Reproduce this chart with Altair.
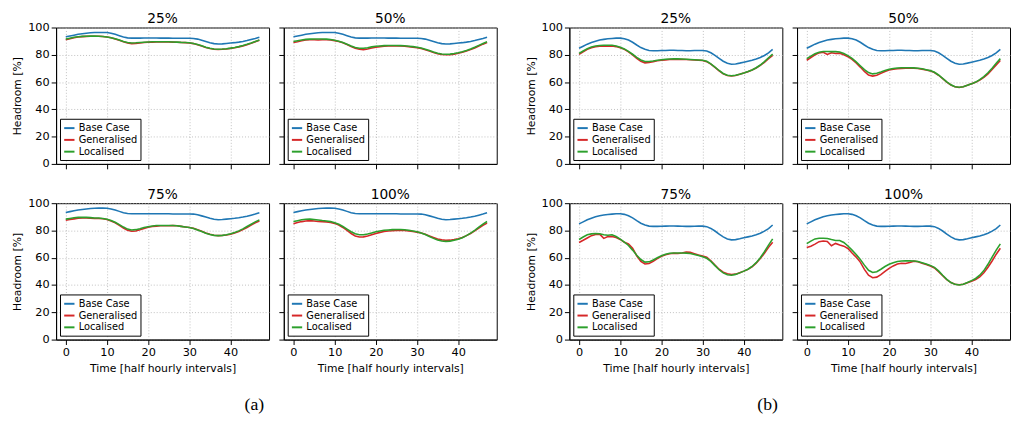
import altair as alt
import pandas as pd

t = list(range(48))
series_names = ["Base Case", "Generalised", "Localised"]
series_colors = ["#1f77b4", "#d62728", "#2ca02c"]
x_ticks = [0, 10, 20, 30, 40]
y_ticks = [0, 20, 40, 60, 80, 100]

base_a = [93.2, 93.8, 94.4, 95.0, 95.4, 95.8, 96.1, 96.3, 96.4, 96.4, 96.3, 95.8,
          95.0, 94.0, 93.0, 92.4, 92.2, 92.2, 92.2, 92.3, 92.3, 92.3, 92.3, 92.2,
          92.2, 92.2, 92.1, 92.1, 92.1, 92.1, 92.1, 92.0, 91.5, 90.7, 89.8, 88.9,
          88.2, 87.9, 88.0, 88.3, 88.6, 88.9, 89.3, 89.8, 90.4, 91.2, 92.0, 92.9]
gen_a25 = [91.0, 91.8, 92.5, 93.0, 93.3, 93.5, 93.6, 93.6, 93.6, 93.4, 93.1, 92.5,
           91.6, 90.6, 89.5, 88.6, 88.2, 88.3, 88.7, 89.0, 89.2, 89.3, 89.4, 89.4,
           89.4, 89.4, 89.3, 89.2, 89.0, 88.9, 88.7, 88.2, 87.4, 86.4, 85.4, 84.6,
           84.1, 83.9, 84.0, 84.3, 84.7, 85.2, 85.8, 86.5, 87.4, 88.4, 89.5, 90.6]
loc_a25 = [91.5, 92.2, 92.8, 93.2, 93.5, 93.6, 93.7, 93.7, 93.6, 93.4, 93.1, 92.5,
           91.7, 90.8, 89.8, 89.0, 88.7, 88.8, 89.0, 89.2, 89.4, 89.5, 89.5, 89.5,
           89.5, 89.5, 89.4, 89.3, 89.1, 89.0, 88.8, 88.3, 87.5, 86.6, 85.6, 84.8,
           84.3, 84.1, 84.2, 84.5, 84.9, 85.4, 86.0, 86.8, 87.7, 88.7, 89.8, 90.9]
gen_a50 = [89.0, 89.6, 90.3, 90.8, 91.0, 91.0, 90.9, 91.0, 91.0, 90.8, 90.4, 89.8,
           88.9, 87.6, 86.1, 84.8, 84.0, 83.8, 84.3, 85.0, 85.6, 86.0, 86.3, 86.4,
           86.5, 86.5, 86.4, 86.3, 86.0, 85.6, 85.2, 84.6, 83.7, 82.7, 81.7, 80.8,
           80.2, 80.0, 80.1, 80.5, 81.1, 81.8, 82.7, 83.8, 85.0, 86.4, 87.8, 89.0]
loc_a50 = [89.7, 90.3, 90.9, 91.3, 91.5, 91.6, 91.6, 91.6, 91.5, 91.2, 90.7, 90.0,
           89.0, 87.8, 86.5, 85.4, 84.8, 84.8, 85.2, 85.8, 86.2, 86.5, 86.7, 86.8,
           86.8, 86.8, 86.7, 86.6, 86.3, 86.0, 85.6, 85.0, 84.1, 83.1, 82.1, 81.2,
           80.6, 80.4, 80.5, 80.9, 81.5, 82.2, 83.1, 84.2, 85.5, 86.9, 88.3, 89.6]
gen_a75 = [87.5, 88.0, 88.5, 89.0, 89.2, 89.2, 89.0, 88.8, 88.8, 88.6, 88.0, 87.0,
           85.6, 83.8, 81.8, 80.2, 79.4, 79.6, 80.5, 81.5, 82.3, 82.9, 83.2, 83.4,
           83.4, 83.5, 83.6, 83.4, 83.0, 82.6, 82.2, 81.6, 80.6, 79.4, 78.2, 77.2,
           76.5, 76.2, 76.3, 76.7, 77.3, 78.1, 79.2, 80.6, 82.2, 83.9, 85.6, 87.0]
loc_a75 = [88.3, 88.8, 89.3, 89.6, 89.7, 89.6, 89.4, 89.2, 89.1, 88.8, 88.2, 87.3,
           86.0, 84.3, 82.5, 81.0, 80.4, 80.6, 81.3, 82.1, 82.8, 83.3, 83.6, 83.7,
           83.7, 83.7, 83.6, 83.4, 83.0, 82.6, 82.2, 81.5, 80.4, 79.2, 78.0, 77.0,
           76.4, 76.2, 76.4, 76.9, 77.6, 78.5, 79.7, 81.2, 82.9, 84.6, 86.3, 87.8]
gen_a100 = [85.0, 85.8, 86.5, 87.0, 87.2, 87.0, 86.6, 86.5, 86.3, 85.9, 85.2, 84.0,
            82.2, 80.0, 77.8, 76.0, 75.2, 75.3, 76.0, 76.9, 77.8, 78.6, 79.2, 79.6,
            79.8, 80.0, 80.1, 80.0, 79.6, 79.2, 78.8, 78.2, 77.2, 76.0, 74.8, 73.8,
            73.1, 72.8, 72.9, 73.4, 74.0, 74.9, 76.2, 77.8, 79.7, 81.8, 83.8, 85.4]
loc_a100 = [86.5, 87.2, 87.8, 88.2, 88.3, 88.1, 87.7, 87.3, 87.0, 86.5, 85.7, 84.5,
            82.9, 81.0, 79.1, 77.6, 76.8, 76.8, 77.4, 78.2, 79.0, 79.6, 80.1, 80.4,
            80.6, 80.7, 80.7, 80.5, 80.1, 79.6, 79.0, 78.2, 77.0, 75.6, 74.2, 73.0,
            72.3, 72.0, 72.2, 72.8, 73.6, 74.7, 76.2, 78.0, 80.1, 82.4, 84.7, 86.6]

base_b = [84.8, 86.3, 87.8, 89.0, 90.0, 90.8, 91.3, 91.7, 92.0, 92.2, 92.2, 91.8,
          90.8, 89.2, 87.2, 85.3, 84.0, 83.2, 83.0, 83.0, 83.1, 83.2, 83.3, 83.3,
          83.2, 83.1, 83.0, 83.0, 83.1, 83.2, 83.2, 82.8, 81.5, 79.6, 77.4, 75.3,
          73.8, 73.1, 73.3, 73.9, 74.6, 75.3, 76.0, 76.9, 78.0, 79.5, 81.4, 84.0]
gen_b25 = [80.3, 82.2, 84.0, 85.2, 85.9, 86.2, 86.3, 86.3, 86.4, 86.0, 85.2, 84.0,
           82.2, 79.9, 77.4, 75.2, 74.1, 74.3, 75.0, 75.6, 76.0, 76.3, 76.5, 76.6,
           76.6, 76.6, 76.5, 76.4, 76.2, 76.0, 75.8, 75.0, 73.2, 70.8, 68.2, 66.0,
           64.8, 64.4, 64.8, 65.7, 66.6, 67.6, 68.8, 70.3, 72.2, 74.5, 77.1, 79.6]
loc_b25 = [81.0, 82.8, 84.5, 85.7, 86.5, 86.8, 87.0, 87.0, 87.0, 86.5, 85.6, 84.3,
           82.5, 80.4, 78.1, 76.2, 75.1, 75.1, 75.5, 76.0, 76.4, 76.7, 76.9, 77.0,
           77.0, 76.9, 76.8, 76.6, 76.4, 76.2, 76.0, 75.2, 73.4, 71.0, 68.5, 66.3,
           65.0, 64.6, 65.0, 65.8, 66.7, 67.7, 68.9, 70.5, 72.5, 75.0, 77.8, 80.5]
gen_b50 = [76.0, 78.0, 80.0, 81.4, 81.8, 80.3, 81.5, 81.0, 81.2, 80.0, 78.6, 76.6,
           74.0, 71.0, 67.8, 65.2, 64.4, 65.0, 66.4, 67.8, 68.8, 69.4, 69.8, 70.0,
           70.2, 70.2, 70.2, 70.0, 69.5, 68.8, 68.2, 67.0, 65.0, 62.5, 60.0, 57.9,
           56.5, 56.0, 56.5, 57.6, 58.7, 59.8, 61.4, 63.4, 66.0, 69.2, 72.6, 75.8]
loc_b50 = [77.2, 79.0, 80.8, 81.9, 82.4, 82.4, 82.3, 82.3, 82.0, 81.0, 79.4, 77.4,
           74.8, 72.0, 69.2, 67.0, 66.0, 66.4, 67.4, 68.5, 69.4, 69.9, 70.3, 70.5,
           70.5, 70.5, 70.4, 70.2, 69.7, 69.1, 68.4, 67.2, 65.2, 62.7, 60.2, 58.0,
           56.6, 56.2, 56.6, 57.6, 58.7, 60.0, 61.8, 64.0, 66.8, 70.2, 73.8, 77.2]
gen_b75 = [71.2, 72.8, 74.5, 76.2, 77.0, 77.3, 74.2, 75.5, 75.5, 74.8, 73.4, 71.3,
           70.2, 67.0, 61.5, 57.3, 55.4, 55.8, 57.4, 59.4, 61.0, 62.2, 63.0, 63.3,
           63.1, 63.5, 64.2, 64.0, 63.0, 62.0, 61.2, 60.4, 57.8, 54.6, 51.6, 49.4,
           48.2, 47.7, 48.0, 49.0, 50.2, 51.5, 53.4, 56.0, 59.4, 63.3, 67.6, 71.4]
loc_b75 = [73.4, 75.2, 76.8, 77.5, 77.8, 77.6, 76.8, 76.5, 76.8, 75.6, 73.6, 71.5,
           69.0, 65.6, 61.8, 58.7, 56.8, 57.0, 58.4, 60.0, 61.5, 62.5, 63.3, 63.5,
           63.5, 63.5, 63.4, 63.1, 62.4, 61.6, 60.8, 59.6, 57.3, 54.2, 51.2, 48.9,
           47.5, 47.2, 47.8, 48.9, 50.2, 51.6, 53.6, 56.4, 60.0, 64.4, 69.2, 73.8]
gen_b100 = [67.6, 68.5, 70.0, 71.8, 72.3, 72.0, 68.8, 70.5, 69.3, 68.5, 66.8, 63.5,
            60.5, 56.8, 51.5, 47.2, 45.4, 45.8, 47.6, 50.0, 52.2, 54.0, 55.4, 56.0,
            55.8, 56.6, 57.5, 57.0, 56.0, 55.0, 54.0, 52.5, 49.8, 46.8, 44.0, 41.8,
            40.6, 40.2, 40.6, 41.6, 42.7, 44.0, 46.0, 49.0, 53.0, 57.6, 62.6, 67.0]
loc_b100 = [70.4, 72.2, 73.8, 74.3, 74.3, 74.1, 73.3, 72.6, 72.6, 71.2, 68.6, 65.6,
            62.4, 58.8, 54.6, 50.8, 49.2, 49.8, 51.6, 53.6, 55.2, 56.4, 57.2, 57.6,
            57.7, 57.7, 57.6, 57.2, 56.4, 55.4, 54.4, 53.0, 50.4, 47.2, 44.2, 41.8,
            40.5, 40.0, 40.6, 41.8, 43.2, 44.8, 47.2, 50.6, 55.2, 60.4, 65.6, 70.2]

FONT = "DejaVu Sans"
PW, PH = 217, 139


def panel(base, gen, loc, title, show_y, show_x):
    df = pd.DataFrame({
        "t": t * 3,
        "value": base + gen + loc,
        "series": [series_names[0]] * len(t) + [series_names[1]] * len(t) + [series_names[2]] * len(t),
    })
    x_axis = alt.Axis(values=x_ticks, labels=show_x, grid=True,
                      title="Time [half hourly intervals]" if show_x else None)
    y_axis = alt.Axis(values=y_ticks, labels=show_y, grid=True,
                      title="Headroom [%]" if show_y else None)
    title_offset = -4.5 if show_y else 1
    return alt.Chart(df, title=alt.TitleParams(title, fontWeight="normal", fontSize=14, offset=title_offset,
                                               font=FONT, color="black")).mark_line(strokeWidth=1.6).encode(
        x=alt.X("t:Q", scale=alt.Scale(domain=[-2.35, 49.35], nice=False, zero=False), axis=x_axis),
        y=alt.Y("value:Q", scale=alt.Scale(domain=[0, 100], nice=False), axis=y_axis),
        color=alt.Color("series:N",
                        scale=alt.Scale(domain=series_names, range=series_colors),
                        legend=alt.Legend(title=None, orient="bottom-left", offset=4, padding=3,
                                          strokeColor="black", fillColor="white", cornerRadius=0,
                                          symbolType="stroke", symbolSize=110, symbolStrokeWidth=2,
                                          labelFontSize=10, labelFont=FONT, labelColor="black",
                                          rowPadding=0, labelOffset=3)),
    ).properties(width=PW, height=PH)


def group(label, base, g25, l25, g50, l50, g75, l75, g100, l100):
    top = alt.hconcat(panel(base, g25, l25, "25%", True, False),
                      panel(base, g50, l50, "50%", False, False),
                      spacing=8).resolve_legend(color="independent")
    bot = alt.hconcat(panel(base, g75, l75, "75%", True, True),
                      panel(base, g100, l100, "100%", False, True),
                      spacing=8).resolve_legend(color="independent")
    return alt.vconcat(top, bot, spacing=18, title=alt.TitleParams(
        label, orient="bottom", anchor="middle", font="Liberation Serif",
        fontSize=18, fontWeight="normal", offset=23, color="black")
    ).resolve_legend(color="independent")


ga = group("(a)", base_a, gen_a25, loc_a25, gen_a50, loc_a50, gen_a75, loc_a75, gen_a100, loc_a100)
gb = group("(b)", base_b, gen_b25, loc_b25, gen_b50, loc_b50, gen_b75, loc_b75, gen_b100, loc_b100)

chart = alt.hconcat(ga, gb, spacing=27).resolve_legend(color="independent").properties(
    padding={"left": 3, "top": 0, "right": 0, "bottom": 0}
).configure_view(
    stroke="black", strokeWidth=1
).configure_axis(
    labelFont=FONT, titleFont=FONT, labelFontSize=11.5, titleFontSize=11,
    titleFontWeight="normal", labelColor="black", titleColor="black",
    domainColor="black", tickColor="black", tickSize=5, labelPadding=2,
    gridColor="#b0b0b0", gridDash=[1, 2], gridWidth=0.8, titlePadding=5
).configure_title(
    font=FONT, fontSize=14, fontWeight="normal", offset=0, color="black"
)

chart.save("out.html", embed_options={"renderer": "svg", "actions": False})
